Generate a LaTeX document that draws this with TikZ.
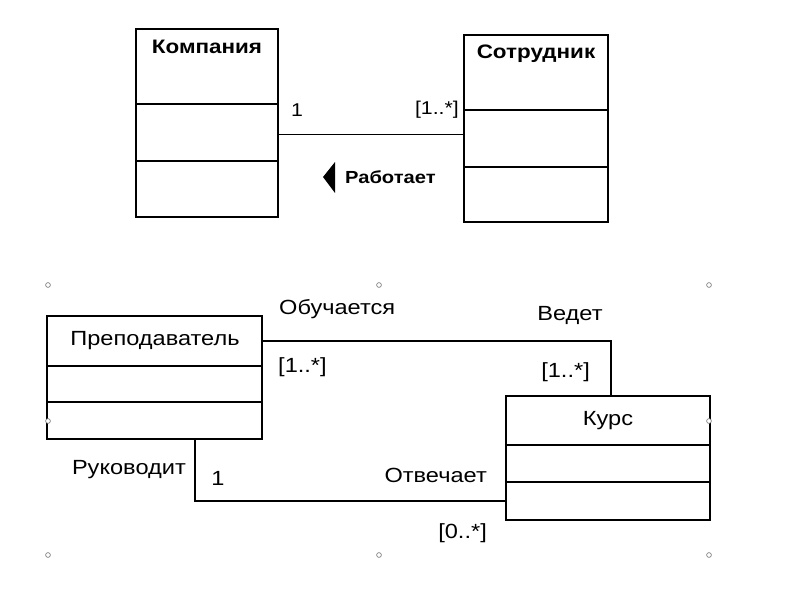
\documentclass[tikz,border=0pt]{standalone}
\usepackage{fontspec}
\setmainfont[FakeStretch=1.15]{Liberation Sans}
\usepackage{xcolor}
\usetikzlibrary{positioning,calc}
\definecolor{inkblack}{HTML}{000000}
\definecolor{handlegray}{HTML}{707070}

\tikzset{
  thinbox/.style={draw=inkblack, line width=1.4pt, minimum width=#1, inner sep=0pt},
  thickbox/.style={draw=inkblack, line width=2.4pt, minimum width=#1, inner sep=0pt},
  toplabel/.style={inner sep=0pt, font=\fontsize{18.5}{20}\selectfont},
  botlabel/.style={inner sep=0pt, font=\fontsize{20.5}{24}\selectfont},
  handle/.style={draw=handlegray, fill=white, line width=0.6pt}
}

\begin{document}
\begin{tikzpicture}[x=1pt,y=-1pt]
  \useasboundingbox (0,0) rectangle (800,600);
  \fill[white] (0,0) rectangle (800,600);

  % upper diagram: company / employee
  \node[thinbox=142pt, minimum height=188pt] (kompania) at (207,123) {};
  \node[thinbox=144pt, minimum height=187pt] (sotrudnik) at (536,128.5) {};
  \foreach \yy in {104,161}
    \draw[inkblack, line width=1.2pt] (kompania.west |- 0,\yy) -- (kompania.east |- 0,\yy);
  \foreach \yy in {110,167}
    \draw[inkblack, line width=1.2pt] (sotrudnik.west |- 0,\yy) -- (sotrudnik.east |- 0,\yy);
  \node[toplabel, font=\fontsize{19.5}{22}\selectfont\bfseries] (kompaniaName) at (207,47) {Компания};
  \node[toplabel, font=\fontsize{19.5}{22}\selectfont\bfseries] (sotrudnikName) at (536,54) {Сотрудник};

  \draw[inkblack, line width=0.9pt] (kompania.east |- 0,134) -- (sotrudnik.west |- 0,134);
  \node[toplabel] (multOne) at (297,110) {1};
  \node[toplabel, anchor=east] (multMany) at (459,110) {[1..*]};
  \fill[inkblack] (323,177) -- (335,162) -- (335,193) -- cycle;
  \node[toplabel, anchor=west, font=\fontsize{17.5}{20}\selectfont\bfseries] (rabotaet) at (345,177) {Работает};

  % lower diagram: teacher / course
  \node[thickbox=215pt, minimum height=123pt] (prep) at (154.5,377.5) {};
  \node[thickbox=204pt, minimum height=124pt] (kurs) at (608,458) {};
  \foreach \yy in {366,402}
    \draw[inkblack, line width=2.2pt] (prep.west |- 0,\yy) -- (prep.east |- 0,\yy);
  \foreach \yy in {445,482}
    \draw[inkblack, line width=2.2pt] (kurs.west |- 0,\yy) -- (kurs.east |- 0,\yy);
  \node[botlabel] (prepName) at (155,341) {Преподаватель};
  \node[botlabel] (kursName) at (608,421) {Курс};

  \draw[inkblack, line width=1.8pt] (prep.east |- 0,341) -| (kurs.north -| 611,0);
  \draw[inkblack, line width=1.8pt] (prep.south -| 195,0) |- (kurs.west |- 0,501);

  \node[botlabel, anchor=west] (obuch) at (279,309) {Обучается};
  \node[botlabel] (vedet) at (570,315) {Ведет};
  \node[botlabel, anchor=west] (obuchMult) at (278,367) {[1..*]};
  \node[botlabel, anchor=east] (vedetMult) at (590,372) {[1..*]};
  \node[botlabel, anchor=east] (rukov) at (186,470) {Руководит};
  \node[botlabel] (rukovMult) at (218,478) {1};
  \node[botlabel, anchor=east] (otvech) at (487,475) {Отвечает};
  \node[botlabel, anchor=east] (otvechMult) at (487,533) {[0..*]};

  % selection handles
  \foreach \hx/\hy in {48/285, 379/285, 709/285, 48/421, 709/421, 48/555, 379/555, 709/555}
    \draw[handle] (\hx,\hy) circle (2.4);
\end{tikzpicture}
\end{document}
